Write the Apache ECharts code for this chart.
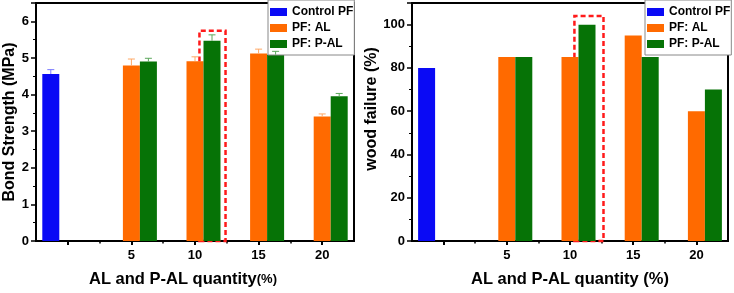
<!DOCTYPE html>
<html lang="en">
<head>
  <meta charset="UTF-8">
  <title>Bond strength and wood failure</title>
  <script src="https://cdn.jsdelivr.net/npm/echarts@6/dist/echarts.min.js"></script>
  <style>
    body { margin: 0; padding: 0; background: #fff; }
  </style>
</head>
<body>
  <div id="chart" style="width: 734px; height: 293px;"></div>
  <script>
    // data
    var quantity = [5, 10, 15, 20];
    var controlAt = [0];
    var xTicks = [0, 5, 10, 15, 20];
    var xMinorTicks = [2.5, 7.5, 12.5, 17.5];

    var bondControl = [4.56];
    var bondControlErr = [0.12];
    var bondAL = [4.79, 4.91, 5.12, 3.40];
    var bondALErr = [0.18, 0.12, 0.12, 0.07];
    var bondPAL = [4.90, 5.47, 5.09, 3.95];
    var bondPALErr = [0.09, 0.16, 0.09, 0.08];

    var woodControl = [80];
    var woodAL = [85, 85, 95, 60];
    var woodPAL = [85, 100, 85, 70];

    // highlighted group (x from, x to, y top)
    var bondBox = [10.35, 12.4, 5.74];
    var woodBox = [10.35, 12.65, 104];

    var FONT = 'Liberation Sans, Arial, sans-serif';
    var BLUE = '#0a0af5', ORANGE = '#ff6a00', GREEN = '#067306';
    var BAR_W = 17;

    function pairs(xs, ys) {
      return xs.map(function (x, i) { return [x, ys[i]]; });
    }
    function triples(xs, ys, es) {
      return xs.map(function (x, i) { return [x, ys[i], es[i]]; });
    }

    function xAxisPair(grid, name, namePad) {
      return [{
        type: 'value', gridIndex: grid, min: -2.5, max: 22.5,
        name: name, nameLocation: 'middle', nameGap: 30,
        nameTextStyle: { fontFamily: FONT, fontWeight: 'bold', fontSize: 16.5, color: '#000', padding: namePad,
          rich: { s: { fontFamily: FONT, fontWeight: 'bold', fontSize: 13, color: '#000' } } },
        axisLine: { onZero: false, lineStyle: { color: '#000', width: 2 } },
        axisTick: { customValues: xTicks, length: 4, lineStyle: { color: '#000', width: 2 } },
        axisLabel: { customValues: quantity, fontFamily: FONT, fontWeight: 'bold', fontSize: 13, color: '#000', margin: 8 },
        splitLine: { show: false }
      }, {
        type: 'value', gridIndex: grid, min: -2.5, max: 22.5, position: 'bottom',
        axisLine: { show: false, onZero: false },
        axisTick: { customValues: xMinorTicks, length: 2.5, lineStyle: { color: '#000', width: 1.5 } },
        axisLabel: { show: false },
        splitLine: { show: false }
      }];
    }

    function yAxis(grid, name, max, interval, gap, namePad) {
      return {
        type: 'value', gridIndex: grid, min: 0, max: max, interval: interval,
        name: name, nameLocation: 'middle', nameGap: gap,
        nameTextStyle: { fontFamily: FONT, fontWeight: 'bold', fontSize: 16, color: '#000', padding: namePad },
        axisLine: { show: true, onZero: false, lineStyle: { color: '#000', width: 2 } },
        axisTick: { show: true, length: 5, lineStyle: { color: '#000', width: 1.5 } },
        minorTick: { show: true, splitNumber: 2, length: 3, lineStyle: { color: '#000', width: 1 } },
        axisLabel: { fontFamily: FONT, fontWeight: 'bold', fontSize: 13, color: '#000', margin: 7, showMaxLabel: false },
        splitLine: { show: false }
      };
    }

    function errorBars(xi, yi, data, color, offset) {
      return {
        type: 'custom', xAxisIndex: xi, yAxisIndex: yi, z: 5, silent: true,
        data: data,
        renderItem: function (params, api) {
          var base = api.coord([api.value(0), api.value(1)]);
          var top = api.coord([api.value(0), api.value(1) + api.value(2)]);
          var cx = base[0] + offset;
          var st = { stroke: color, lineWidth: 1 };
          return {
            type: 'group',
            children: [
              { type: 'line', shape: { x1: cx, y1: base[1], x2: cx, y2: top[1] }, style: st },
              { type: 'line', shape: { x1: cx - 3.5, y1: top[1], x2: cx + 3.5, y2: top[1] }, style: st }
            ]
          };
        }
      };
    }

    function box(b) {
      return {
        silent: true,
        itemStyle: { color: 'rgba(0,0,0,0)', borderColor: '#ff1a1a', borderWidth: 2.5, borderType: [5, 3] },
        data: [[{ xAxis: b[0], yAxis: 0 }, { xAxis: b[1], yAxis: b[2] }]]
      };
    }

    function legend(left) {
      return {
        left: left, top: 0, orient: 'vertical', icon: 'rect',
        itemWidth: 17, itemHeight: 8, itemGap: 2,
        padding: [5, 1, 4, 2],
        backgroundColor: '#fff', borderColor: '#888', borderWidth: 1,
        textStyle: { fontFamily: FONT, fontWeight: 'bold', fontSize: 12, color: '#000', lineHeight: 14 },
        data: ['Control PF', 'PF: AL', 'PF: P-AL']
      };
    }

    var barCommon = { type: 'bar', barWidth: BAR_W, barGap: '0%' };

    var option = {
      animation: false,
      grid: [
        { left: 36, top: 3, width: 318, height: 241, show: true, borderColor: '#000', borderWidth: 2 },
        { left: 412, top: 3, width: 316, height: 243, show: true, borderColor: '#000', borderWidth: 2 }
      ],
      legend: [legend(268), legend(645)],
      xAxis: xAxisPair(0, 'AL and P-AL quantity{s|(%)}', [0, 24, 0, 0])
        .concat(xAxisPair(1, 'AL and P-AL quantity (%)', 0)),
      yAxis: [
        yAxis(0, 'Bond Strength (MPa)', 6.5, 1, 18, 0),
        yAxis(1, 'wood failure (%)', 110, 20, 25, [0, 0, 0, 26])
      ],
      series: [
        Object.assign({}, barCommon, { name: 'Control PF', xAxisIndex: 0, yAxisIndex: 0, itemStyle: { color: BLUE }, data: pairs(controlAt, bondControl) }),
        Object.assign({}, barCommon, { name: 'PF: AL', xAxisIndex: 0, yAxisIndex: 0, itemStyle: { color: ORANGE }, data: pairs(quantity, bondAL) }),
        Object.assign({}, barCommon, { name: 'PF: P-AL', xAxisIndex: 0, yAxisIndex: 0, itemStyle: { color: GREEN }, data: pairs(quantity, bondPAL) }),
        errorBars(0, 0, triples(controlAt, bondControl, bondControlErr), '#7b7bff', -BAR_W),
        errorBars(0, 0, triples(quantity, bondAL, bondALErr), '#ffa866', 0),
        errorBars(0, 0, triples(quantity, bondPAL, bondPALErr), '#5ca85c', BAR_W),
        { type: 'line', xAxisIndex: 0, yAxisIndex: 0, data: [], z: 10, markArea: box(bondBox) },

        Object.assign({}, barCommon, { name: 'Control PF', xAxisIndex: 2, yAxisIndex: 1, itemStyle: { color: BLUE }, data: pairs(controlAt, woodControl) }),
        Object.assign({}, barCommon, { name: 'PF: AL', xAxisIndex: 2, yAxisIndex: 1, itemStyle: { color: ORANGE }, data: pairs(quantity, woodAL) }),
        Object.assign({}, barCommon, { name: 'PF: P-AL', xAxisIndex: 2, yAxisIndex: 1, itemStyle: { color: GREEN }, data: pairs(quantity, woodPAL) }),
        { type: 'line', xAxisIndex: 2, yAxisIndex: 1, data: [], z: 10, markArea: box(woodBox) }
      ]
    };

    var myChart = echarts.init(document.getElementById('chart'));
    myChart.setOption(option);
  </script>
</body>
</html>
